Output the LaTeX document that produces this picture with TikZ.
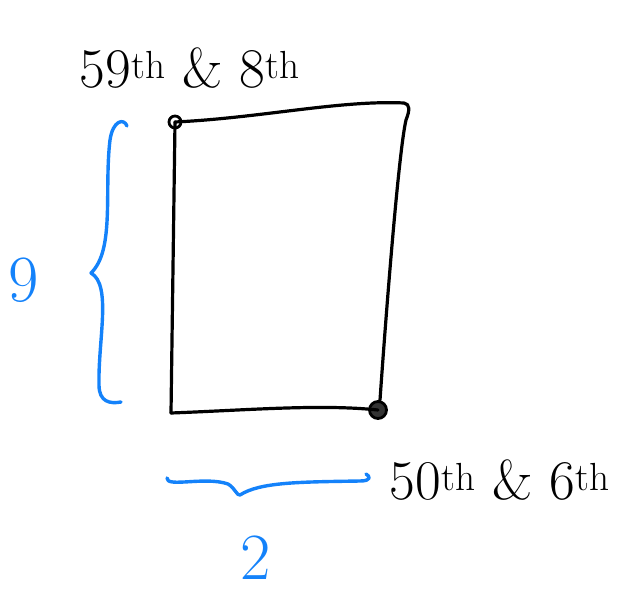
\documentclass[tikz,border=0pt]{standalone}
\usepackage{tikz}
\definecolor{penblue}{RGB}{20,130,250}
\begin{document}
\begin{tikzpicture}[x=1pt,y=-1pt,
  ink/.style={line width=3.2pt,line cap=round,line join=round,black},
  blueink/.style={line width=3.4pt,line cap=round,line join=round,penblue},
  corner/.style={circle,draw,line width=2.8pt,inner sep=0pt},
  lab/.style={font=\fontsize{56}{64}\selectfont,inner sep=0pt},
  dim/.style={font=\fontsize{66}{74}\selectfont,text=penblue,inner sep=0pt}]
\useasboundingbox (0,0) rectangle (618,599);
% corner markers
\node[corner,minimum size=12pt] (tl) at (175,122) {};
\node[corner,minimum size=17pt,fill=black!80] (br) at (378,410) {};
\coordinate (tr) at (404,103);
\coordinate (bl) at (171,413);
% rectangle
\draw[ink] (tl.center) .. controls (260,118) and (340,100) .. (tr)
  .. controls (410,104) and (410,110) .. (406,120)
  .. controls (399,150) and (387,300) .. (380,400);
\draw[ink] (tl.center) -- (bl);
\draw[ink] (bl) .. controls (250,410) and (320,404) .. (br.center);
% left brace
\draw[blueink] (127,126) .. controls (124,118) and (113,120) .. (110,140)
  .. controls (104,190) and (115,250) .. (91,273)
  .. controls (112,285) and (98,340) .. (99,385)
  .. controls (99,402) and (110,404) .. (121,402);
% bottom brace
\draw[blueink] (167,478) .. controls (166,488) and (205,476) .. (228,484)
  .. controls (235,488) and (237,496) .. (240,495)
  .. controls (260,482) and (300,482) .. (360,481)
  .. controls (372,481) and (370,476) .. (366,474);
% labels
\node[lab] (t1) at (190,68) {59\textsuperscript{th} \& 8\textsuperscript{th}};
\node[lab] (t2) at (500,480) {50\textsuperscript{th} \& 6\textsuperscript{th}};
\node[dim] (h) at (24,280) {9};
\node[dim] (w) at (256,558) {2};
\end{tikzpicture}
\end{document}
